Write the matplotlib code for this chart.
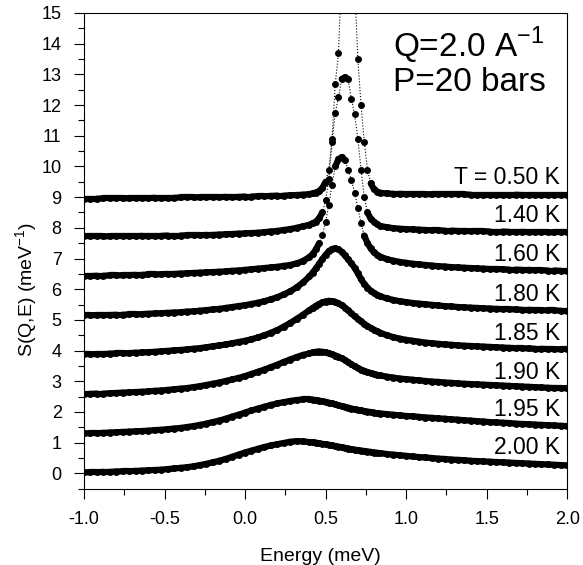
import numpy as np
import matplotlib.pyplot as plt
from matplotlib.ticker import MultipleLocator
from matplotlib.collections import LineCollection

plt.rcParams['font.family'] = ['Liberation Sans', 'DejaVu Sans']

# energy channels (meV)
energy = [-1.00, -0.96, -0.92, -0.88, -0.84, -0.80, -0.76, -0.72, -0.68, -0.64,
          -0.60, -0.56, -0.52, -0.48, -0.44, -0.40, -0.36, -0.32, -0.28, -0.24,
          -0.20, -0.16, -0.12, -0.08, -0.04, 0.00, 0.04, 0.08, 0.12, 0.16,
          0.20, 0.24, 0.28, 0.32, 0.36,
          0.40, 0.42, 0.44, 0.46, 0.48, 0.50, 0.52, 0.54, 0.56, 0.58,
          0.60, 0.62, 0.64, 0.66, 0.68, 0.70, 0.72, 0.74, 0.76, 0.78,
          0.80, 0.82, 0.84,
          0.88, 0.92, 0.96, 1.00, 1.04, 1.08, 1.12, 1.16, 1.20, 1.24,
          1.28, 1.32, 1.36, 1.40, 1.44, 1.48, 1.52, 1.56, 1.60, 1.64,
          1.68, 1.72, 1.76, 1.80, 1.84, 1.88, 1.92, 1.96, 2.00]

# S(Q,E), curves already offset vertically as in the figure
s_050 = [8.95, 8.95, 8.95, 8.96, 8.96, 8.96, 8.96, 8.97, 8.97, 8.97,
         8.97, 8.98, 8.98, 8.98, 8.98, 8.99, 8.99, 8.99, 9.00, 9.00,
         9.00, 9.00, 9.01, 9.01, 9.01, 9.02, 9.02, 9.03, 9.03, 9.04,
         9.05, 9.05, 9.06, 9.07, 9.08,
         9.10, 9.12, 9.15, 9.20, 9.30, 9.50, 9.90, 10.90, 12.70, 13.70,
         16.50, 19.50, 20.50, 18.50, 16.00, 13.50, 12.00, 10.80, 9.90, 9.45,
         9.26, 9.18, 9.14,
         9.12, 9.11, 9.11, 9.10, 9.10, 9.10, 9.10, 9.09, 9.09, 9.09,
         9.09, 9.09, 9.09, 9.08, 9.08, 9.08, 9.08, 9.08, 9.08, 9.08,
         9.08, 9.07, 9.07, 9.07, 9.07, 9.07, 9.07, 9.07, 9.07]
s_140 = [7.72, 7.72, 7.72, 7.72, 7.73, 7.73, 7.73, 7.73, 7.73, 7.74,
         7.74, 7.74, 7.74, 7.75, 7.75, 7.75, 7.76, 7.76, 7.76, 7.77,
         7.77, 7.78, 7.79, 7.80, 7.81, 7.82, 7.83, 7.84, 7.86, 7.88,
         7.90, 7.93, 7.96, 8.00, 8.05,
         8.10, 8.15, 8.20, 8.32, 8.50, 8.90, 9.60, 10.80, 11.75, 12.25,
         12.85, 12.90, 12.85, 12.20, 11.70, 10.90, 9.90, 9.00, 8.50, 8.30,
         8.20, 8.12, 8.06,
         8.02, 7.99, 7.97, 7.96, 7.95, 7.94, 7.93, 7.92, 7.92, 7.91,
         7.91, 7.90, 7.90, 7.89, 7.89, 7.89, 7.88, 7.88, 7.88, 7.87,
         7.87, 7.87, 7.86, 7.86, 7.86, 7.86, 7.85, 7.85, 7.85]
s_160 = [6.43, 6.43, 6.44, 6.44, 6.45, 6.45, 6.46, 6.46, 6.47, 6.47,
         6.48, 6.48, 6.49, 6.50, 6.50, 6.51, 6.52, 6.53, 6.54, 6.55,
         6.56, 6.57, 6.58, 6.60, 6.61, 6.63, 6.65, 6.67, 6.69, 6.71,
         6.73, 6.76, 6.79, 6.84, 6.92,
         7.05, 7.15, 7.30, 7.50, 7.78, 8.20, 8.75, 9.40, 10.00, 10.24,
         10.30, 10.20, 9.90, 9.55, 9.15, 8.65, 8.15, 7.75, 7.50, 7.33,
         7.20, 7.12, 7.06,
         6.98, 6.93, 6.89, 6.86, 6.83, 6.81, 6.79, 6.77, 6.75, 6.74,
         6.72, 6.71, 6.70, 6.69, 6.68, 6.67, 6.66, 6.66, 6.65, 6.64,
         6.64, 6.63, 6.63, 6.62, 6.62, 6.61, 6.61, 6.60, 6.60]
s_180 = [5.15, 5.15, 5.16, 5.16, 5.16, 5.17, 5.17, 5.18, 5.18, 5.19,
         5.20, 5.21, 5.22, 5.23, 5.24, 5.25, 5.27, 5.28, 5.30, 5.32,
         5.34, 5.36, 5.39, 5.42, 5.45, 5.48, 5.52, 5.56, 5.61, 5.67,
         5.74, 5.83, 5.93, 6.06, 6.22,
         6.42, 6.54, 6.68, 6.83, 6.98, 7.12, 7.24, 7.31, 7.33, 7.30,
         7.22, 7.10, 6.97, 6.84, 6.70, 6.52, 6.33, 6.17, 6.05, 5.95,
         5.88, 5.82, 5.77,
         5.70, 5.65, 5.61, 5.58, 5.55, 5.53, 5.51, 5.49, 5.47, 5.45,
         5.44, 5.42, 5.41, 5.40, 5.39, 5.38, 5.37, 5.36, 5.35, 5.35,
         5.34, 5.33, 5.33, 5.32, 5.32, 5.31, 5.31, 5.30, 5.30]
s_185 = [3.88, 3.88, 3.89, 3.89, 3.90, 3.91, 3.91, 3.92, 3.93, 3.94,
         3.95, 3.96, 3.98, 3.99, 4.01, 4.02, 4.04, 4.06, 4.08, 4.11,
         4.14, 4.17, 4.20, 4.24, 4.28, 4.32, 4.37, 4.43, 4.50, 4.58,
         4.67, 4.78, 4.90, 5.03, 5.17,
         5.32, 5.39, 5.46, 5.52, 5.57, 5.60, 5.62, 5.61, 5.59, 5.54,
         5.48, 5.40, 5.31, 5.21, 5.12, 5.03, 4.95, 4.87, 4.80, 4.74,
         4.68, 4.63, 4.58,
         4.50, 4.44, 4.39, 4.35, 4.32, 4.29, 4.26, 4.24, 4.22, 4.20,
         4.19, 4.17, 4.16, 4.15, 4.14, 4.13, 4.12, 4.11, 4.10, 4.09,
         4.08, 4.08, 4.07, 4.06, 4.06, 4.05, 4.05, 4.04, 4.04]
s_190 = [2.58, 2.59, 2.60, 2.60, 2.61, 2.62, 2.63, 2.64, 2.65, 2.66,
         2.67, 2.69, 2.70, 2.72, 2.74, 2.76, 2.78, 2.81, 2.84, 2.88,
         2.92, 2.96, 3.01, 3.06, 3.11, 3.17, 3.24, 3.31, 3.38, 3.46,
         3.54, 3.63, 3.71, 3.79, 3.86,
         3.91, 3.94, 3.96, 3.97, 3.96, 3.94, 3.91, 3.88, 3.84, 3.80,
         3.75, 3.69, 3.62, 3.55, 3.49, 3.43, 3.38, 3.34, 3.30, 3.27,
         3.24, 3.21, 3.19,
         3.15, 3.12, 3.09, 3.07, 3.05, 3.03, 3.01, 2.99, 2.98, 2.96,
         2.95, 2.93, 2.92, 2.91, 2.90, 2.89, 2.88, 2.87, 2.86, 2.85,
         2.84, 2.83, 2.82, 2.81, 2.80, 2.79, 2.78, 2.78, 2.77]
s_195 = [1.30, 1.31, 1.31, 1.32, 1.33, 1.34, 1.35, 1.36, 1.37, 1.38,
         1.39, 1.41, 1.42, 1.44, 1.46, 1.48, 1.51, 1.54, 1.58, 1.62,
         1.67, 1.72, 1.78, 1.85, 1.91, 1.98, 2.05, 2.11, 2.17, 2.23,
         2.28, 2.32, 2.36, 2.39, 2.41,
         2.41, 2.40, 2.39, 2.37, 2.35, 2.33, 2.30, 2.28, 2.25, 2.22,
         2.19, 2.17, 2.14, 2.11, 2.09, 2.07, 2.05, 2.03, 2.01, 2.00,
         1.98, 1.96, 1.95,
         1.93, 1.91, 1.89, 1.87, 1.86, 1.84, 1.82, 1.81, 1.79, 1.78,
         1.76, 1.75, 1.73, 1.72, 1.70, 1.69, 1.67, 1.66, 1.65, 1.64,
         1.62, 1.61, 1.60, 1.59, 1.58, 1.57, 1.56, 1.55, 1.54]
s_200 = [0.03, 0.04, 0.04, 0.05, 0.05, 0.06, 0.07, 0.07, 0.08, 0.09,
         0.10, 0.11, 0.12, 0.14, 0.16, 0.18, 0.20, 0.23, 0.27, 0.31,
         0.36, 0.41, 0.47, 0.54, 0.61, 0.68, 0.74, 0.80, 0.86, 0.91,
         0.95, 0.99, 1.03, 1.05, 1.04,
         1.02, 1.01, 1.00, 0.98, 0.96, 0.95, 0.93, 0.91, 0.89, 0.87,
         0.85, 0.83, 0.81, 0.79, 0.77, 0.76, 0.74, 0.73, 0.71, 0.70,
         0.68, 0.67, 0.66,
         0.63, 0.61, 0.59, 0.57, 0.55, 0.53, 0.52, 0.50, 0.48, 0.47,
         0.45, 0.44, 0.43, 0.41, 0.40, 0.39, 0.38, 0.37, 0.36, 0.35,
         0.34, 0.33, 0.32, 0.31, 0.30, 0.29, 0.28, 0.27, 0.26]

curves = [s_050, s_140, s_160, s_180, s_185, s_190, s_195, s_200]
labels = ['T = 0.50 K', '1.40 K', '1.60 K', '1.80 K', '1.85 K', '1.90 K', '1.95 K', '2.00 K']
label_y = [9.65, 8.40, 7.12, 5.84, 4.57, 3.30, 2.09, 0.85]

fig = plt.figure(figsize=(5.83, 5.65), dpi=100)
ax = fig.add_axes([0.144, 0.135, 0.829, 0.842])
ax.set_xlim(-1.0, 2.0)
ax.set_ylim(-0.5, 15)

x = np.array(energy)
for s in curves:
    y = np.array(s)
    # points that sit close together merge into a thick trace
    pix = ax.transData.transform(np.column_stack([x, y]))
    gap = np.hypot(*np.diff(pix, axis=0).T)
    segs = [[(x[i], y[i]), (x[i + 1], y[i + 1])] for i in range(len(x) - 1) if gap[i] < 9]
    ax.add_collection(LineCollection(segs, colors='k', linewidths=4.5, capstyle='round'))
    ax.plot(x, y, linestyle=':', color='k', lw=0.8,
            marker='o', ms=5, mfc='k', mec='k', mew=0)

for lab, ly in zip(labels, label_y):
    ax.text(1.955, ly, lab, ha='right', va='center', fontsize=16.5)

ax.text(1.86, 13.95, r'Q=2.0 A$^{\mathregular{-1}}$', ha='right', va='center', fontsize=24)
ax.text(1.87, 12.72, 'P=20 bars', ha='right', va='center', fontsize=24)

ax.xaxis.set_minor_locator(MultipleLocator(0.25))
ax.yaxis.set_minor_locator(MultipleLocator(0.5))
ax.set_xticks([-1.0, -0.5, 0.0, 0.5, 1.0, 1.5, 2.0])
ax.set_xticklabels(['-1.0', '-0.5', '0.0', '0.5', '1.0', '1.5', '2.0'])
ax.set_yticks(range(0, 16))
ax.set_yticklabels([str(i) for i in range(0, 16)])
ax.tick_params(which='major', length=7, width=0.8, labelsize=13, direction='out')
ax.tick_params(which='minor', length=4, width=0.8, direction='out')
ax.tick_params(axis='x', which='major', pad=9)
ax.tick_params(axis='y', which='major', pad=9)
ax.tick_params(top=False, right=False, which='both')
for sp in ax.spines.values():
    sp.set_linewidth(0.8)

ax.set_xlabel('Energy (meV)', fontsize=14)
ax.xaxis.set_label_coords(0.49, -0.125)
ax.set_ylabel(r'S(Q,E) (meV$^{\mathregular{-1}}$)', fontsize=14)
ax.yaxis.set_label_coords(-0.09, 0.42)

fig.savefig('out.png', dpi=100)
